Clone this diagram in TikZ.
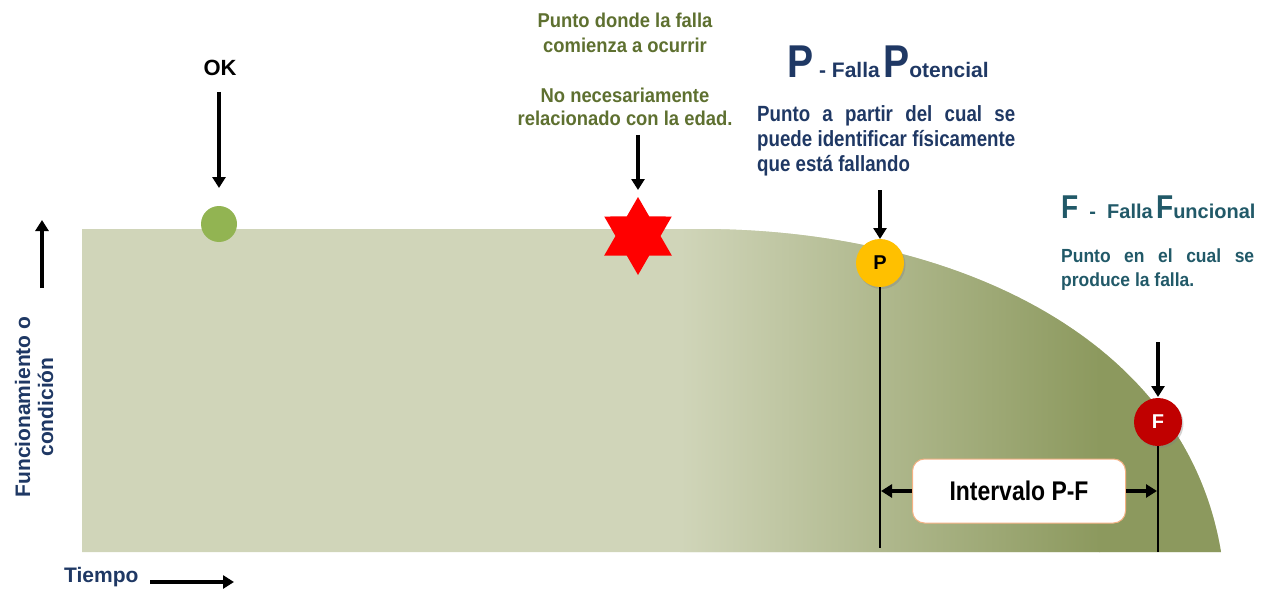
\documentclass[tikz,border=0pt]{standalone}
\usepackage{fontspec}
\setmainfont{Liberation Sans}
\newfontfamily\narrow[FakeStretch=0.85]{Liberation Sans}
\newfontfamily\semi[FakeStretch=0.92]{Liberation Sans}
\usetikzlibrary{arrows.meta,shapes.geometric,shadows}
\definecolor{bgl}{RGB}{208,213,185}
\definecolor{bgd}{RGB}{140,153,94}
\definecolor{olivetxt}{RGB}{94,112,48}
\definecolor{navytxt}{RGB}{31,56,100}
\definecolor{tealtxt}{RGB}{33,89,104}
\definecolor{okgreen}{RGB}{146,180,82}
\definecolor{pyellow}{RGB}{255,192,0}
\definecolor{fred}{RGB}{192,0,0}
\definecolor{boxorange}{RGB}{244,177,131}
\newcommand{\jline}[2]{\makebox[#1][s]{#2}}
\tikzset{
  arr/.style={-{Triangle[length=11pt,width=13pt]}, line width=3.4pt},
  dot/.style={circle, inner sep=0pt, minimum size=48pt, font=\bfseries\fontsize{20}{20}\selectfont,
    drop shadow={opacity=0.35, shadow xshift=1.5pt, shadow yshift=-2pt}},
  txt/.style={inner sep=0pt},
}
\begin{document}
\begin{tikzpicture}[x=1pt,y=-1pt]
\useasboundingbox (0,0) rectangle (1266,591);
% background shape
\def\shapepath{(82,229) -- (700,229) .. controls (950,229) and (1185,335) .. (1221,552) -- (82,552) -- cycle}
\fill[bgl] \shapepath;
\begin{scope}
\clip \shapepath;
\shade[left color=bgl, right color=bgd] (680,200) rectangle (1100,560);
\fill[bgd] (1099,200) rectangle (1225,560);
\end{scope}
% axes
\coordinate (ya) at (42,288);
\coordinate (yb) at (42,220);
\draw[arr] (ya) -- (yb);
\node[txt, text=navytxt, rotate=90, align=center, font=\bfseries\fontsize{21}{23}\selectfont] (ylbl) at (34,407) {Funcionamiento o\\condición};
\node[txt, text=navytxt, anchor=west, font=\bfseries\fontsize{21}{24}\selectfont] (tiempo) at (64,577) {Tiempo};
\coordinate (xa) at (150,582);
\coordinate (xb) at (234,582);
\draw[arr] (xa) -- (xb);
% OK
\node[txt, text=black, font=\bfseries\fontsize{22}{24}\selectfont] (oklbl) at (220,68) {OK};
\node[circle, fill=okgreen, inner sep=0pt, minimum size=36pt] (ok) at (219,224) {};
\coordinate (oka) at (219,92);
\coordinate (okb) at (219,188);
\draw[arr] (oka) -- (okb);
% star
\node[txt, text=olivetxt, align=center, font=\semi\bfseries\fontsize{20}{25}\selectfont] (g1) at (625,33) {Punto donde la falla\\comienza a ocurrir};
\node[txt, text=olivetxt, align=center, font=\semi\bfseries\fontsize{20}{23}\selectfont] (g2) at (625,107) {No necesariamente\\relacionado con la edad.};
\node[star, star points=6, star point ratio=1.732, fill=red, inner sep=0pt, minimum size=78pt] (star) at (638,236) {};
\coordinate (sa) at (638,135);
\coordinate (sb) at (638,190);
\draw[arr] (sa) -- (sb);
% P
\node[inner sep=0pt, anchor=base west, text=navytxt, font=\bfseries] (ptitle) at (787,78)
  {{\narrow\fontsize{46}{46}\selectfont P}\fontsize{21}{21}\selectfont\ - Falla\,{\narrow\fontsize{46}{46}\selectfont P}\fontsize{21}{21}\selectfont otencial};
\node[txt, text=navytxt, anchor=north west, align=left, font=\narrow\bfseries\fontsize{22}{25}\selectfont] (ptext) at (757,105)
  {\jline{258pt}{Punto a partir del cual se}\\\jline{258pt}{puede identificar físicamente}\\que está fallando};
\node[dot, fill=pyellow, text=black] (p) at (880,263) {P};
\coordinate (pa) at (880,190);
\coordinate (pb) at (880,239);
\draw[arr] (pa) -- (pb);
\coordinate (pbot) at (880,548);
\draw[line width=2pt] (p.south) -- (pbot);
% F
\node[inner sep=0pt, anchor=base west, text=tealtxt, font=\bfseries] (ftitle) at (1061,218)
  {{\narrow\fontsize{33}{33}\selectfont F}\fontsize{20}{20}\selectfont\ \ - \ Falla\,{\narrow\fontsize{33}{33}\selectfont F}\fontsize{20}{20}\selectfont uncional};
\node[txt, text=tealtxt, anchor=north west, align=left, font=\semi\bfseries\fontsize{19}{24}\selectfont] (ftext) at (1061,249)
  {\jline{193pt}{Punto en el cual se}\\produce la falla.};
\node[dot, fill=fred, text=white] (f) at (1158,422) {F};
\coordinate (fa) at (1158,342);
\coordinate (fb) at (1158,397);
\draw[arr] (fa) -- (fb);
\coordinate (fbot) at (1158,552);
\draw[line width=2pt] (f.south) -- (fbot);
% interval
\node[draw=boxorange, line width=1pt, fill=white, rounded corners=12pt, minimum width=213pt, minimum height=64pt, font=\narrow\bfseries\fontsize{27}{27}\selectfont] (iv) at (1019,491) {Intervalo P-F};
\coordinate (ivl) at (881,491);
\coordinate (ivr) at (1157,491);
\draw[arr] (iv.west) -- (ivl);
\draw[arr] (iv.east) -- (ivr);
\end{tikzpicture}
\end{document}
